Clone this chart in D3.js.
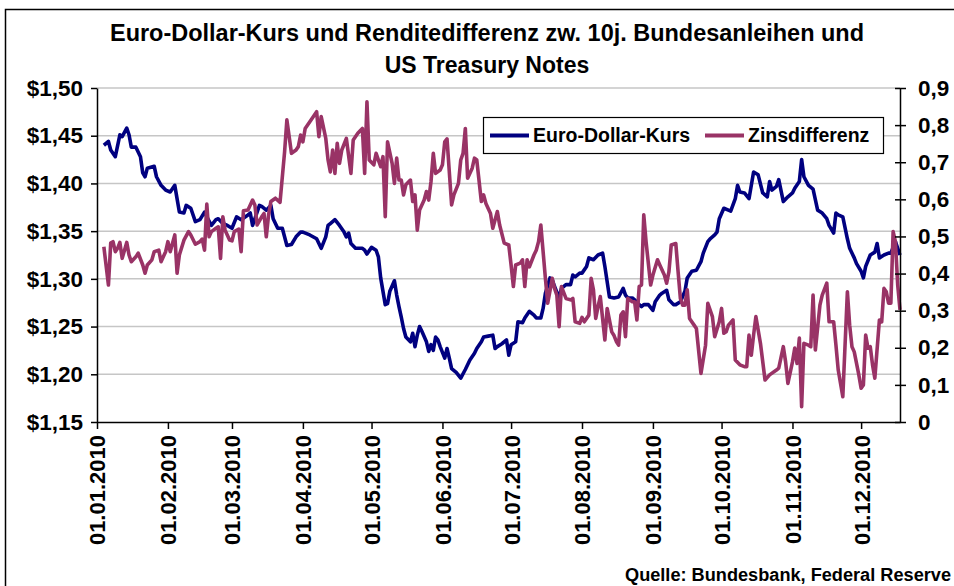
<!DOCTYPE html>
<html>
<head>
<meta charset="utf-8">
<title>Euro-Dollar-Kurs und Zinsdifferenz</title>
<script src="https://d3js.org/d3.v7.min.js"></script>
<style>
  body { margin: 0; background: #fff; }
  * { font-family: "Liberation Sans", Arial, sans-serif; }
</style>
</head>
<body>
<svg id="chart" width="954" height="586"></svg>
<script>
// days counted from 01.01.2010
const eurDays = [
  3,5,6,8,10,11,13,14,15,17,
  19,20,21,22,25,26,28,30,32,34,
  36,38,39,41,43,45,47,48,50,52,
  53,55,57,59,61,63,66,67,68,69,
  71,72,74,76,77,79,81,83,85,87,
  89,90,93,96,97,98,100,101,102,104,
  106,108,109,110,111,113,116,117,118,120,
  122,123,124,126,127,128,130,131,132,133,
  134,135,137,138,139,140,141,142,144,145,
  146,147,148,149,150,152,153,154,155,157,
  159,161,163,165,166,168,169,171,173,174,
  175,177,179,180,181,183,184,186,187,189,
  191,192,194,195,196,198,199,200,202,203,
  205,207,208,209,211,212,214,215,217,219,
  221,222,224,226,228,230,231,232,234,235,
  237,238,239,241,243,244,246,247,249,250,
  252,253,255,257,258,260,262,264,265,267,
  268,270,271,272,274,276,277,279,280,281,
  283,285,287,289,291,293,294,295,297,298,
  300,302,304,305,307,308,309,311,313,315,
  317,319,320,322,323,324,326,328,329,331,
  332,334,335,336,338,340,341,342,344,346,
  347,349,351
];
const eurRate = [
  1.440,1.444,1.435,1.428,1.451,1.449,1.458,1.451,1.438,1.438,
  1.428,1.411,1.407,1.416,1.418,1.407,1.398,1.393,1.391,1.398,
  1.370,1.369,1.377,1.374,1.360,1.362,1.370,1.365,1.356,1.362,
  1.363,1.358,1.356,1.353,1.365,1.362,1.367,1.369,1.356,1.363,
  1.377,1.376,1.372,1.377,1.363,1.353,1.353,1.335,1.336,1.344,
  1.349,1.349,1.346,1.342,1.337,1.332,1.344,1.356,1.358,1.362,
  1.356,1.349,1.344,1.348,1.337,1.332,1.332,1.330,1.326,1.333,
  1.330,1.323,1.301,1.273,1.274,1.287,1.298,1.283,1.271,1.260,
  1.248,1.239,1.234,1.243,1.229,1.241,1.250,1.245,1.234,1.224,
  1.231,1.225,1.239,1.236,1.229,1.217,1.227,1.217,1.206,1.202,
  1.196,1.205,1.215,1.222,1.227,1.234,1.239,1.240,1.241,1.227,
  1.229,1.232,1.236,1.220,1.231,1.234,1.255,1.254,1.259,1.266,
  1.262,1.259,1.259,1.269,1.285,1.301,1.299,1.292,1.280,1.290,
  1.294,1.294,1.304,1.302,1.306,1.306,1.313,1.322,1.320,1.325,
  1.327,1.313,1.281,1.280,1.281,1.290,1.283,1.280,1.280,1.278,
  1.273,1.271,1.273,1.273,1.267,1.276,1.283,1.285,1.288,1.278,
  1.273,1.273,1.276,1.287,1.301,1.308,1.309,1.318,1.327,1.339,
  1.342,1.346,1.349,1.363,1.374,1.372,1.371,1.384,1.398,1.391,
  1.390,1.384,1.412,1.409,1.390,1.386,1.402,1.393,1.397,1.404,
  1.381,1.386,1.390,1.395,1.402,1.425,1.407,1.398,1.394,1.372,
  1.369,1.363,1.356,1.348,1.369,1.367,1.365,1.342,1.332,1.322,
  1.316,1.308,1.301,1.313,1.325,1.328,1.337,1.322,1.325,1.327,
  1.327,1.339,1.325
];

const spreadDays = [
  3,5,6,7,8,9,10,11,13,14,
  15,17,18,20,21,22,24,25,27,28,
  30,31,32,34,35,36,38,40,41,43,
  45,46,47,48,49,50,52,53,54,55,
  56,58,59,60,62,63,64,66,68,69,
  70,72,73,74,75,76,78,80,82,83,
  85,87,88,89,90,91,94,96,97,98,
  100,101,102,103,104,105,106,107,109,111,
  112,114,116,117,118,119,121,122,124,125,
  126,127,129,130,131,132,133,134,135,137,
  138,139,140,141,143,144,145,146,147,148,
  150,151,152,153,155,156,158,159,160,161,
  162,164,165,166,168,169,170,172,173,175,
  176,178,180,181,182,183,185,186,187,188,
  189,191,192,193,194,196,197,199,200,201,
  202,203,205,207,208,209,211,212,213,215,
  216,217,218,219,220,221,222,223,225,226,
  227,228,229,230,231,232,234,235,236,237,
  238,239,240,242,243,245,246,248,249,250,
  251,253,254,255,256,257,258,259,261,262,
  264,266,267,269,270,272,273,274,275,276,
  278,279,281,283,284,285,286,287,288,290,
  292,294,297,298,300,301,302,304,305,306,
  307,308,309,311,312,313,314,316,317,319,
  320,322,323,324,326,328,329,330,331,333,
  334,335,336,337,338,339,340,342,343,344,
  345,346,347,348,349,350,351
];
const spreadValues = [
  0.472,0.369,0.482,0.486,0.459,0.468,0.484,0.441,0.484,0.450,
  0.432,0.445,0.455,0.423,0.401,0.423,0.437,0.459,0.463,0.432,
  0.459,0.486,0.459,0.504,0.401,0.450,0.490,0.513,0.504,0.479,
  0.486,0.493,0.463,0.587,0.499,0.513,0.522,0.526,0.441,0.553,
  0.517,0.490,0.488,0.513,0.520,0.459,0.569,0.571,0.598,0.585,
  0.531,0.553,0.562,0.499,0.558,0.594,0.603,0.592,0.728,0.814,
  0.724,0.733,0.742,0.773,0.755,0.791,0.818,0.836,0.769,0.823,
  0.764,0.706,0.674,0.733,0.670,0.751,0.697,0.733,0.764,0.670,
  0.760,0.778,0.791,0.670,0.863,0.706,0.693,0.724,0.688,0.715,
  0.553,0.755,0.697,0.643,0.711,0.652,0.652,0.612,0.639,0.652,
  0.594,0.612,0.517,0.571,0.598,0.621,0.598,0.648,0.724,0.670,
  0.679,0.693,0.755,0.763,0.585,0.612,0.643,0.706,0.724,0.791,
  0.657,0.684,0.711,0.706,0.594,0.612,0.589,0.562,0.522,0.567,
  0.531,0.482,0.477,0.423,0.365,0.423,0.428,0.437,0.365,0.437,
  0.418,0.450,0.463,0.486,0.531,0.387,0.320,0.387,0.360,0.342,
  0.257,0.365,0.333,0.329,0.333,0.270,0.266,0.282,0.270,0.288,
  0.387,0.356,0.279,0.311,0.338,0.279,0.221,0.306,0.243,0.233,
  0.217,0.207,0.288,0.297,0.230,0.333,0.324,0.324,0.275,0.365,
  0.369,0.558,0.486,0.369,0.396,0.437,0.423,0.396,0.374,0.405,
  0.477,0.481,0.405,0.333,0.315,0.315,0.356,0.279,0.261,0.252,
  0.131,0.207,0.320,0.284,0.230,0.270,0.306,0.239,0.243,0.261,
  0.275,0.167,0.154,0.149,0.149,0.234,0.180,0.234,0.284,0.212,
  0.113,0.127,0.140,0.145,0.203,0.162,0.104,0.162,0.199,0.158,
  0.226,0.041,0.212,0.207,0.203,0.342,0.194,0.315,0.342,0.374,
  0.270,0.270,0.207,0.140,0.068,0.351,0.261,0.203,0.189,0.127,
  0.091,0.100,0.234,0.199,0.203,0.154,0.118,0.275,0.270,0.360,
  0.351,0.320,0.320,0.513,0.486,0.369,0.302
];

const leftTicks = [1.15, 1.20, 1.25, 1.30, 1.35, 1.40, 1.45, 1.50];
const rightTicks = [0, 0.1, 0.2, 0.3, 0.4, 0.5, 0.6, 0.7, 0.8, 0.9];
const monthTicks = ["2010-01-01","2010-02-01","2010-03-01","2010-04-01","2010-05-01","2010-06-01",
                    "2010-07-01","2010-08-01","2010-09-01","2010-10-01","2010-11-01","2010-12-01"];
const seriesNames = ["Euro-Dollar-Kurs", "Zinsdifferenz"];
const seriesColors = ["#000080", "#993366"];
const titleLines = ["Euro-Dollar-Kurs und Renditedifferenz zw. 10j. Bundesanleihen und", "US Treasury Notes"];
const sourceText = "Quelle: Bundesbank, Federal Reserve";

let svg = d3.select("svg#chart");

const plot = { left: 97, right: 900, top: 88, bottom: 422 };
const start = new Date(2010, 0, 1);
const toDate = d => d3.timeDay.offset(start, d);

const xScale = d3.scaleTime()
  .domain([start, toDate(351)])
  .range([plot.left, plot.right]);
const yLeft = d3.scaleLinear().domain([1.15, 1.50]).range([plot.bottom, plot.top]);
const yRight = d3.scaleLinear().domain([0, 0.9]).range([plot.bottom, plot.top]);

// outer chart frame
svg.append("rect")
  .attr("x", 5.5).attr("y", 9.5)
  .attr("width", 1000).attr("height", 1000)
  .attr("fill", "none").attr("stroke", "#000").attr("stroke-width", 1.5);

// gridlines
svg.append("g").selectAll("line")
  .data(leftTicks.filter(d => d > 1.15))
  .join("line")
  .attr("x1", plot.left).attr("x2", plot.right)
  .attr("y1", d => yLeft(d)).attr("y2", d => yLeft(d))
  .attr("stroke", "#c6c6c6").attr("stroke-width", 1.5);

// lines
const eurData = eurDays.map((d, i) => ({ date: toDate(d), v: eurRate[i] }));
const spreadData = spreadDays.map((d, i) => ({ date: toDate(d), v: spreadValues[i] }));

svg.append("path")
  .datum(eurData)
  .attr("fill", "none")
  .attr("stroke", seriesColors[0])
  .attr("stroke-width", 3.6)
  .attr("stroke-linejoin", "round")
  .attr("d", d3.line().x(d => xScale(d.date)).y(d => yLeft(d.v)));

svg.append("path")
  .datum(spreadData)
  .attr("fill", "none")
  .attr("stroke", seriesColors[1])
  .attr("stroke-width", 3.6)
  .attr("stroke-linejoin", "round")
  .attr("d", d3.line().x(d => xScale(d.date)).y(d => yRight(d.v)));

// axes
let leftAxis = d3.axisLeft(yLeft)
  .tickValues(leftTicks)
  .tickSizeInner(6).tickSizeOuter(0).tickPadding(8)
  .tickFormat(d => "$" + d.toFixed(2).replace(".", ","));
let gl = svg.append("g")
  .attr("transform", `translate(${plot.left},0)`)
  .call(leftAxis);

let rightAxis = d3.axisRight(yRight)
  .tickValues(rightTicks)
  .tickSizeInner(6).tickSizeOuter(0).tickPadding(12)
  .tickFormat(d => d === 0 ? "0" : d.toFixed(1).replace(".", ","));
let gr = svg.append("g")
  .attr("transform", `translate(${plot.right},0)`)
  .call(rightAxis);
gr.selectAll(".tick line").attr("x1", -5);

let bottomAxis = d3.axisBottom(xScale)
  .tickValues(monthTicks.map(d => d3.timeParse("%Y-%m-%d")(d)))
  .tickSizeInner(7).tickSizeOuter(0)
  .tickFormat(d3.timeFormat("%d.%m.%Y"));
let gb = svg.append("g")
  .attr("transform", `translate(0,${plot.bottom})`)
  .call(bottomAxis);
gb.selectAll("text")
  .attr("transform", "rotate(-90)")
  .attr("x", -13).attr("y", 0).attr("dy", "0.36em")
  .style("text-anchor", "end");

[gl, gr, gb].forEach(g => {
  g.attr("font-size", null).attr("font-family", null);
  g.select(".domain").attr("stroke", "#000").attr("stroke-width", 1.5);
  g.selectAll(".tick line").attr("stroke", "#000").attr("stroke-width", 1.5);
  g.selectAll("text").style("font-size", "22.5px").style("font-weight", "bold").attr("fill", "#000");
});
gb.selectAll("text").style("font-size", "22px");

// title
svg.selectAll("text.title")
  .data(titleLines)
  .join("text")
  .attr("class", "title")
  .attr("x", 487)
  .attr("y", (d, i) => 41 + i * 32)
  .attr("text-anchor", "middle")
  .style("font-size", "23px")
  .style("font-weight", "bold")
  .attr("textLength", (d, i) => i === 0 ? 754 : null)
  .attr("lengthAdjust", "spacingAndGlyphs")
  .text(d => d);

// legend
const legend = svg.append("g");
legend.append("rect")
  .attr("x", 483.5).attr("y", 117.5).attr("width", 400).attr("height", 36)
  .attr("fill", "#fff").attr("stroke", "#000").attr("stroke-width", 1.2);
const legendX = [490, 705];
seriesNames.forEach((name, i) => {
  legend.append("line")
    .attr("x1", legendX[i]).attr("x2", legendX[i] + 39)
    .attr("y1", 135.5).attr("y2", 135.5)
    .attr("stroke", seriesColors[i]).attr("stroke-width", 4);
  legend.append("text")
    .attr("x", legendX[i] + 43).attr("y", 135.5)
    .attr("dy", "0.35em")
    .style("font-size", "19.5px").style("font-weight", "bold")
    .text(name);
});

// source
svg.append("text")
  .attr("x", 625).attr("y", 581)
  .style("font-size", "18px").style("font-weight", "bold")
  .attr("textLength", 326)
  .attr("lengthAdjust", "spacingAndGlyphs")
  .text(sourceText);
</script>
</body>
</html>
